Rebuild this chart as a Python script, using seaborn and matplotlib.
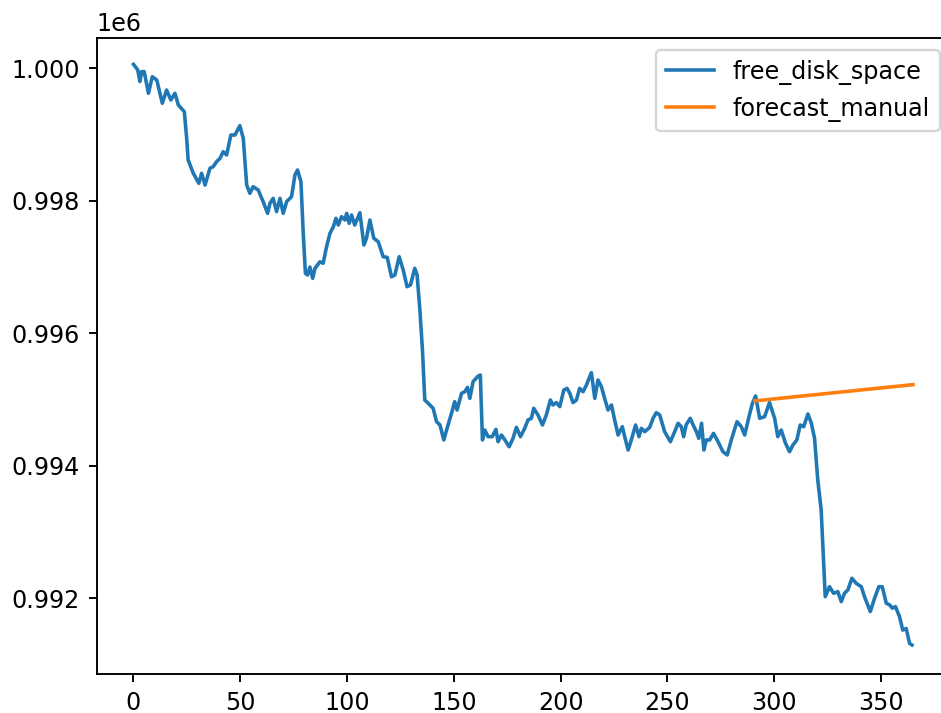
import matplotlib
matplotlib.use("Agg")
import matplotlib.pyplot as plt
import seaborn as sns
import pandas as pd

# Readings of the free_disk_space series (x position, value)
disk_x = [0, 2, 3, 3.8, 5, 7, 8.8, 10.9, 13.5, 15.5, 17.5, 19.4, 21, 23.8, 24.9, 25.6,
          28, 30.6, 31.9, 33.5, 35.8, 37.3, 38.9, 40.5, 42, 43.6, 45.6, 47.5, 49.8, 51.4,
          53, 54.5, 56, 58.4, 60.7, 62.8, 63.9, 65.4, 67, 68.6, 70.1, 71.7, 74, 75.6, 76.8,
          78.4, 79.5, 80.5, 81.5, 82.6, 83.9, 85, 87.3, 88.8, 90.4, 92, 93.6, 94.8, 95.9,
          97.4, 99, 99.8, 101, 102.1, 103.6, 106, 107.9, 109.1, 110.7, 112.5, 114.6, 116.9,
          118.8, 120.8, 122.4, 124.4, 126.3, 128.1, 129.7, 131.7, 132.8, 134.1, 135.3, 136.4,
          138, 140.3, 141.9, 143.5, 145.3, 146.6, 148.9, 150.4, 151.5, 153.6, 155.1, 156.4,
          157.5, 159, 161.4, 162.4, 163.4, 164.5, 166, 168, 169.7, 170.7, 172.3, 173.9, 175.9,
          177.7, 179.3, 181.2, 183.2, 184.7, 186.3, 187.4, 189.4, 191.5, 193.3, 195.2, 196.4,
          198, 199.6, 201.5, 203, 204.3, 205.8, 207.4, 208.9, 210.5, 212.1, 213.3, 214.4, 216,
          217.5, 219.1, 220.6, 222.2, 223.8, 225.3, 226.9, 228.9, 230, 231.6, 233.1, 235.1,
          236.7, 237.8, 239.4, 241.7, 243.3, 244.8, 246.4, 248.7, 251.4, 253.4, 255, 256.5,
          257.6, 258.8, 260.7, 262, 263.5, 264.7, 266, 267.1, 268.2, 269.8, 271.6, 273.7, 276,
          278, 279.9, 282.6, 284.6, 286.2, 288.2, 289.8, 291.3, 293.2, 295.5, 297.8, 300.2,
          301.7, 303.3, 305.3, 307.2, 308.7, 310.6, 312.2, 313.8, 315.8, 317.4, 318.9, 320.4,
          322, 323.1, 323.9, 325.9, 327.8, 329.8, 331.4, 332.9, 334.5, 336.4, 338.4, 340.8,
          342.3, 345, 347, 349, 350.6, 352.5, 354.1, 355.3, 356.8, 358.7, 360.2, 361.8, 363.4,
          364.5]
disk_vals = [1000060, 999974, 999800, 999950, 999950, 999623, 999873, 999823, 999472, 999672,
             999522, 999623, 999446, 999345, 998943, 998616, 998415, 998264, 998415, 998238,
             998491, 998515, 998590, 998641, 998741, 998691, 998993, 998993, 999134, 998943,
             998238, 998113, 998213, 998163, 997987, 997811, 997962, 998037, 997837, 998037,
             997811, 997987, 998062, 998390, 998465, 998289, 997500, 996906, 996880, 997000,
             996830, 996981, 997080, 997057, 997307, 997509, 997610, 997736, 997635, 997760,
             997710, 997810, 997660, 997785, 997635, 997820, 997333, 997434, 997710, 997434,
             997383, 997156, 997146, 996854, 996880, 997156, 996955, 996703, 996730, 996981,
             996880, 996352, 995750, 994993, 994943, 994868, 994666, 994616, 994390, 994540,
             994792, 994968, 994842, 995094, 995118, 995184, 995018, 995270, 995355, 995370,
             994390, 994540, 994440, 994440, 994550, 994364, 994465, 994390, 994288, 994415,
             994580, 994440, 994566, 994692, 994717, 994868, 994767, 994616, 994767, 994993,
             994918, 994954, 994893, 995144, 995169, 995094, 994954, 994993, 995169, 995118,
             995220, 995320, 995405, 995018, 995295, 995194, 995018, 994842, 994918, 994692,
             994465, 994590, 994440, 994238, 994390, 994616, 994440, 994566, 994515, 994580,
             994717, 994802, 994767, 994515, 994364, 994515, 994642, 994590, 994440, 994620,
             994717, 994620, 994520, 994415, 994642, 994238, 994390, 994390, 994490, 994364,
             994213, 994163, 994390, 994666, 994590, 994465, 994741, 994943, 995054, 994717,
             994741, 994954, 994717, 994440, 994540, 994340, 994213, 994310, 994390, 994616,
             994590, 994782, 994642, 994415, 993786, 993333, 992578, 992024, 992175, 992075,
             992100, 991950, 992075, 992126, 992302, 992226, 992175, 992024, 991800, 992000,
             992175, 992175, 991925, 991900, 991850, 991875, 991720, 991520, 991545, 991320,
             991295]

# Readings of the forecast_manual line (start and end)
forecast_x = [291, 365]
forecast_vals = [994980, 995225]

DPI = 172
fig = plt.figure(figsize=(941 / DPI, 713 / DPI), dpi=DPI)
ax = fig.add_axes([0.1026, 0.0543, 0.9085, 0.892])

disk_df = pd.DataFrame({"x": disk_x, "y": disk_vals})
fc_df = pd.DataFrame({"x": forecast_x, "y": forecast_vals})

sns.lineplot(data=disk_df, x="x", y="y", ax=ax, color="#1f77b4",
             linewidth=1.5, label="free_disk_space", estimator=None)
sns.lineplot(data=fc_df, x="x", y="y", ax=ax, color="#ff7f0e",
             linewidth=1.5, label="forecast_manual", estimator=None)

ax.set_xlim(-17.3, 383)
ax.set_ylim(990853, 1000453)
ax.set_xticks([0, 50, 100, 150, 200, 250, 300, 350])
ax.set_yticks([992000, 994000, 996000, 998000, 1000000])
ax.set_xlabel("")
ax.set_ylabel("")
ax.legend(loc="upper right")

fig.savefig("out.png", dpi=DPI)
